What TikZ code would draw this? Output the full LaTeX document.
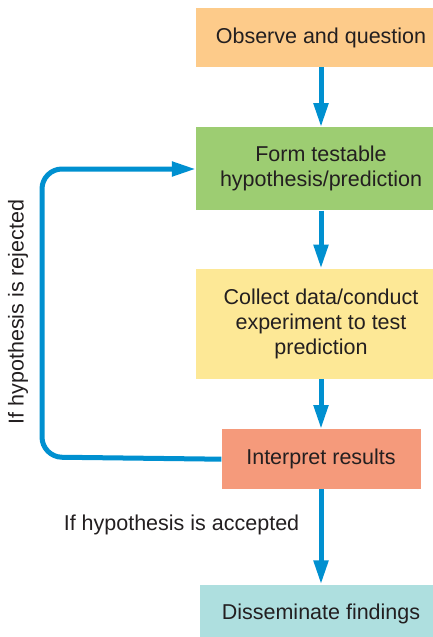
\documentclass[tikz,border=0pt]{standalone}
\usepackage{fontspec}
\setmainfont{Liberation Sans}
\usepackage{xcolor}
\usetikzlibrary{arrows.meta,positioning}

\definecolor{obsorange}{HTML}{FDCB8A}
\definecolor{formgreen}{HTML}{9DCD72}
\definecolor{collyellow}{HTML}{FDE896}
\definecolor{intsalmon}{HTML}{F59A7B}
\definecolor{dissteal}{HTML}{AEDFDF}
\definecolor{flowblue}{HTML}{0090D0}
\definecolor{inkgray}{HTML}{231F20}

\begin{document}
\begin{tikzpicture}[x=1pt, y=-1pt, node distance = 60pt,
    font=\fontsize{21.5}{25}\selectfont, text=inkgray]

    \tikzstyle{stage} = [
        rectangle,
        inner sep=0pt,
        align=center,
        minimum width=250pt,
    ]
    \tikzstyle{line} = [
        draw=flowblue,
        line width=5pt,
        -{Triangle[length=24pt,width=14pt]},
    ]

    \useasboundingbox (0,0) rectangle (432,637);

    \node [stage, fill=obsorange, minimum height=59pt] at (321,37.5) (obs) {Observe and question};
    \node [stage, fill=formgreen, minimum height=83pt, below=60pt of obs] (form) {Form testable\\hypothesis/prediction};
    \node [stage, fill=collyellow, minimum height=110pt, below=58pt of form] (coll) {Collect data/conduct\\experiment to test\\prediction};
    \node [stage, fill=intsalmon, minimum height=60pt, minimum width=199pt, below=50pt of coll] (intp) {Interpret results};
    \node [stage, fill=dissteal, minimum height=58pt, minimum width=242pt, below=95pt of intp] (diss) {Disseminate findings};

    \path [line] (obs) -- (form);
    \path [line] (form) -- (coll);
    \path [line] (coll) -- (intp);
    \path [line] (intp) -- (diss);

    % rejected: back to the hypothesis
    \path [line, rounded corners=20pt] (intp.west) -- (42,457) -- (42,169) -- (form.west |- 0,169);

    \node [rotate=90] (rej) at (18,312) {If hypothesis is rejected};
    \node (acc) at (181.5,525) {If hypothesis is accepted};

\end{tikzpicture}
\end{document}
